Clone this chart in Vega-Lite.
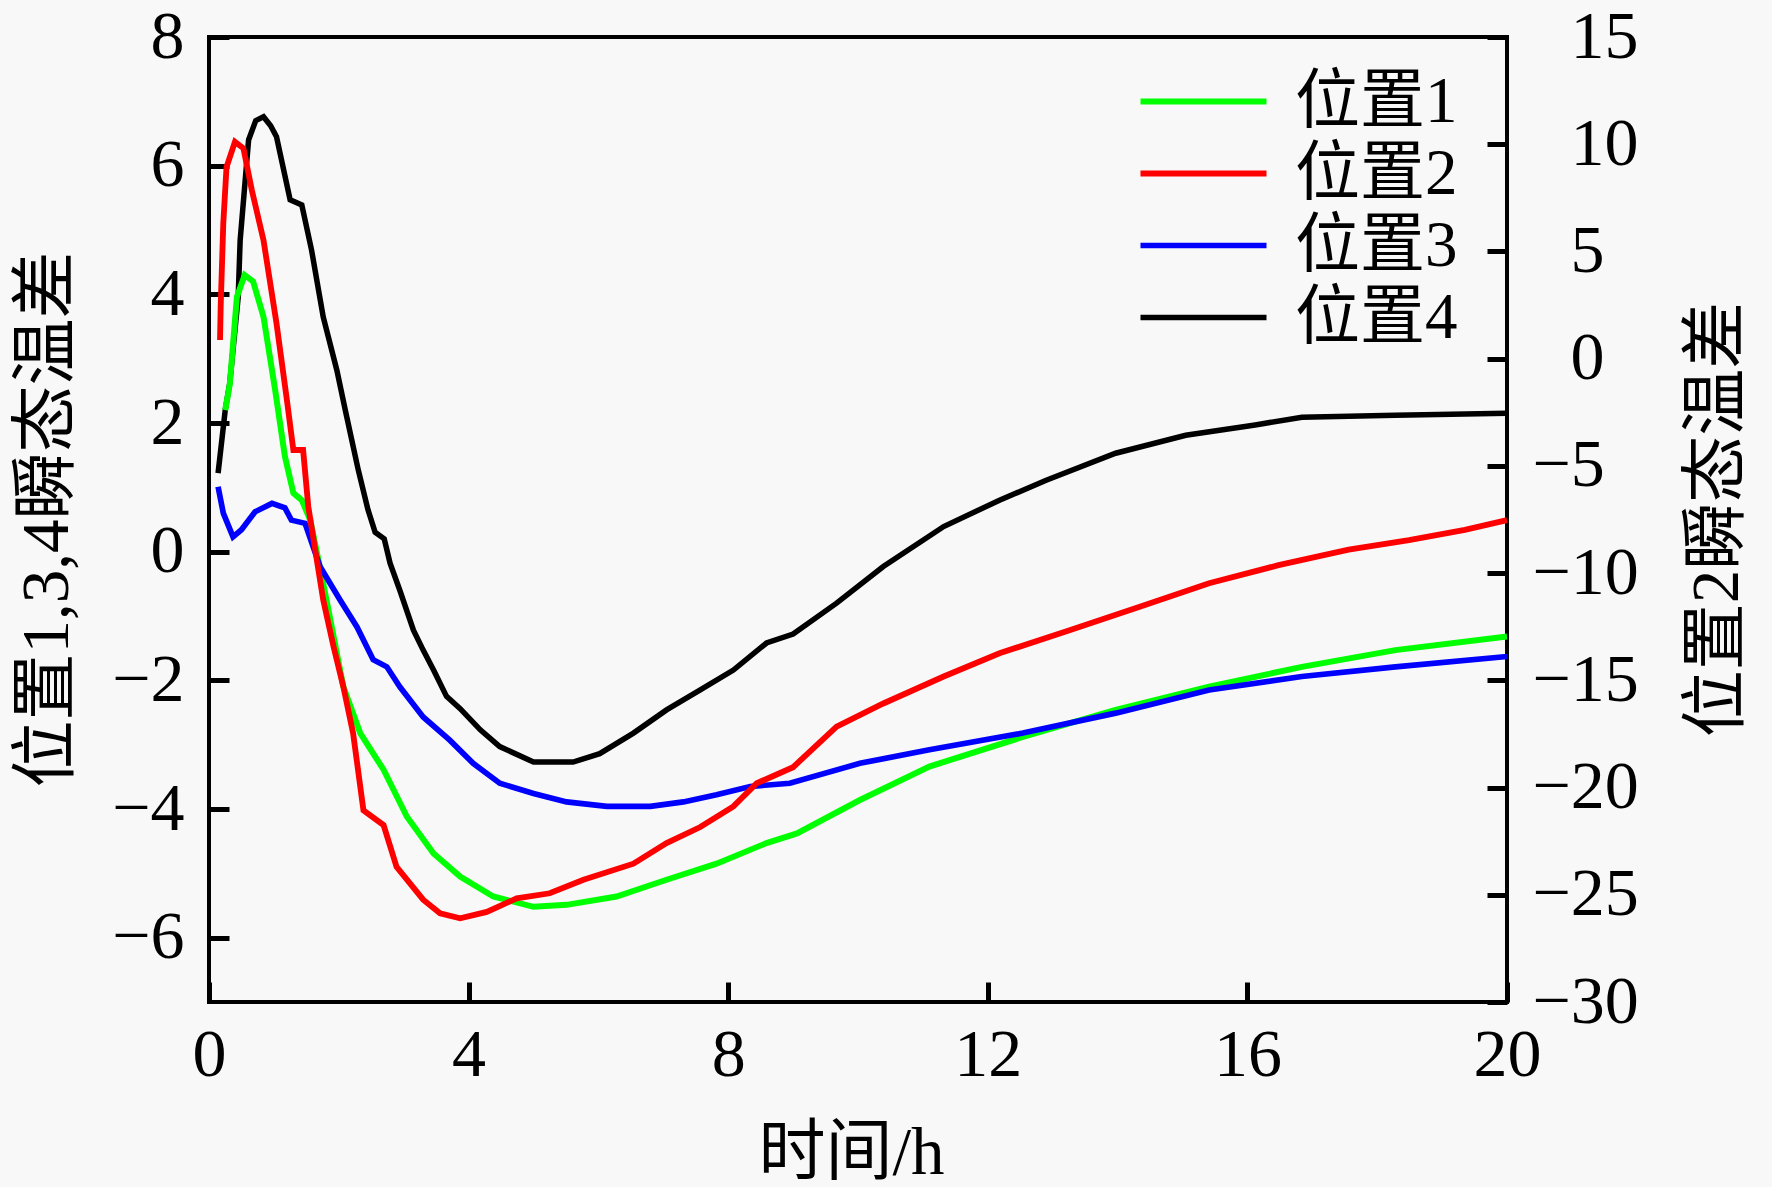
{
  "$schema": "https://vega.github.io/schema/vega-lite/v6.json",
  "width": 1298,
  "height": 965,
  "autosize": "none",
  "padding": {"left": 209, "top": 37, "right": 265, "bottom": 185},
  "background": "#f8f8f8",
  "config": {
    "view": {"stroke": "black", "strokeWidth": 4},
    "axis": {
      "labelFont": "Liberation Serif",
      "labelFontSize": 68,
      "labelColor": "black",
      "labelFlush": false,
      "labelOverlap": false,
      "titleFont": "Liberation Serif, Noto Sans CJK SC",
      "titleFontSize": 67,
      "titleFontWeight": "normal",
      "titleColor": "black",
      "domain": false,
      "grid": false,
      "ticks": true,
      "tickSize": 20,
      "tickWidth": 5,
      "tickColor": "#000000",
      "offset": -20,
      "zindex": 2,
      "titleBaseline": "middle",
      "titleAlign": "center"
    },
    "legend": {
      "labelFont": "Liberation Serif, Noto Sans CJK SC",
      "labelFontSize": 65,
      "labelColor": "black",
      "labelLimit": 0
    }
  },
  "data": {
    "values": [
      {"series": "位置4", "time": 0.14, "value": 1.22},
      {"series": "位置4", "time": 0.25, "value": 2.2},
      {"series": "位置4", "time": 0.32, "value": 2.62},
      {"series": "位置4", "time": 0.45, "value": 3.96},
      {"series": "位置4", "time": 0.48, "value": 4.84},
      {"series": "位置4", "time": 0.61, "value": 6.4},
      {"series": "位置4", "time": 0.72, "value": 6.7},
      {"series": "位置4", "time": 0.84, "value": 6.76},
      {"series": "位置4", "time": 0.95, "value": 6.62},
      {"series": "位置4", "time": 1.04, "value": 6.45},
      {"series": "位置4", "time": 1.25, "value": 5.47},
      {"series": "位置4", "time": 1.43, "value": 5.39},
      {"series": "位置4", "time": 1.58, "value": 4.69},
      {"series": "位置4", "time": 1.76, "value": 3.65},
      {"series": "位置4", "time": 1.97, "value": 2.82},
      {"series": "位置4", "time": 2.1, "value": 2.2},
      {"series": "位置4", "time": 2.3, "value": 1.27},
      {"series": "位置4", "time": 2.45, "value": 0.65},
      {"series": "位置4", "time": 2.56, "value": 0.3},
      {"series": "位置4", "time": 2.7, "value": 0.2},
      {"series": "位置4", "time": 2.79, "value": -0.18},
      {"series": "位置4", "time": 2.94, "value": -0.6},
      {"series": "位置4", "time": 3.15, "value": -1.22},
      {"series": "位置4", "time": 3.3, "value": -1.53},
      {"series": "位置4", "time": 3.46, "value": -1.84},
      {"series": "位置4", "time": 3.66, "value": -2.25},
      {"series": "位置4", "time": 3.87, "value": -2.44},
      {"series": "位置4", "time": 4.18, "value": -2.77},
      {"series": "位置4", "time": 4.48, "value": -3.03},
      {"series": "位置4", "time": 5.0, "value": -3.27},
      {"series": "位置4", "time": 5.61, "value": -3.27},
      {"series": "位置4", "time": 6.02, "value": -3.14},
      {"series": "位置4", "time": 6.54, "value": -2.82},
      {"series": "位置4", "time": 7.05, "value": -2.46},
      {"series": "位置4", "time": 7.57, "value": -2.15},
      {"series": "位置4", "time": 8.08, "value": -1.84},
      {"series": "位置4", "time": 8.59, "value": -1.42},
      {"series": "位置4", "time": 9.0, "value": -1.28},
      {"series": "位置4", "time": 9.67, "value": -0.8},
      {"series": "位置4", "time": 10.39, "value": -0.23},
      {"series": "位置4", "time": 11.32, "value": 0.39},
      {"series": "位置4", "time": 12.18, "value": 0.8},
      {"series": "位置4", "time": 12.9, "value": 1.11},
      {"series": "位置4", "time": 13.97, "value": 1.53},
      {"series": "位置4", "time": 15.05, "value": 1.81},
      {"series": "位置4", "time": 16.12, "value": 1.97},
      {"series": "位置4", "time": 16.84, "value": 2.09},
      {"series": "位置4", "time": 18.28, "value": 2.12},
      {"series": "位置4", "time": 20.0, "value": 2.15},

      {"series": "位置1", "time": 0.25, "value": 2.2},
      {"series": "位置1", "time": 0.32, "value": 2.6},
      {"series": "位置1", "time": 0.43, "value": 3.96},
      {"series": "位置1", "time": 0.55, "value": 4.3},
      {"series": "位置1", "time": 0.68, "value": 4.2},
      {"series": "位置1", "time": 0.84, "value": 3.65},
      {"series": "位置1", "time": 1.02, "value": 2.51},
      {"series": "位置1", "time": 1.17, "value": 1.48},
      {"series": "位置1", "time": 1.3, "value": 0.91},
      {"series": "位置1", "time": 1.43, "value": 0.8},
      {"series": "位置1", "time": 1.56, "value": 0.49},
      {"series": "位置1", "time": 1.68, "value": -0.1},
      {"series": "位置1", "time": 1.81, "value": -0.75},
      {"series": "位置1", "time": 2.07, "value": -2.1},
      {"series": "位置1", "time": 2.33, "value": -2.82},
      {"series": "位置1", "time": 2.69, "value": -3.39},
      {"series": "位置1", "time": 3.05, "value": -4.12},
      {"series": "位置1", "time": 3.46, "value": -4.69},
      {"series": "位置1", "time": 3.87, "value": -5.05},
      {"series": "位置1", "time": 4.38, "value": -5.36},
      {"series": "位置1", "time": 5.0, "value": -5.52},
      {"series": "位置1", "time": 5.51, "value": -5.49},
      {"series": "位置1", "time": 6.28, "value": -5.36},
      {"series": "位置1", "time": 7.05, "value": -5.1},
      {"series": "位置1", "time": 7.82, "value": -4.85},
      {"series": "位置1", "time": 8.59, "value": -4.53},
      {"series": "位置1", "time": 9.06, "value": -4.38},
      {"series": "位置1", "time": 10.03, "value": -3.86},
      {"series": "位置1", "time": 11.1, "value": -3.34},
      {"series": "位置1", "time": 12.54, "value": -2.88},
      {"series": "位置1", "time": 13.97, "value": -2.46},
      {"series": "位置1", "time": 15.41, "value": -2.1},
      {"series": "位置1", "time": 16.84, "value": -1.79},
      {"series": "位置1", "time": 18.28, "value": -1.53},
      {"series": "位置1", "time": 20.0, "value": -1.32},

      {"series": "位置3", "time": 0.14, "value": 1.01},
      {"series": "位置3", "time": 0.22, "value": 0.6},
      {"series": "位置3", "time": 0.37, "value": 0.23},
      {"series": "位置3", "time": 0.5, "value": 0.34},
      {"series": "位置3", "time": 0.71, "value": 0.62},
      {"series": "位置3", "time": 0.97, "value": 0.75},
      {"series": "位置3", "time": 1.17, "value": 0.68},
      {"series": "位置3", "time": 1.27, "value": 0.49},
      {"series": "位置3", "time": 1.48, "value": 0.44},
      {"series": "位置3", "time": 1.71, "value": -0.23},
      {"series": "位置3", "time": 2.02, "value": -0.75},
      {"series": "位置3", "time": 2.28, "value": -1.17},
      {"series": "位置3", "time": 2.53, "value": -1.68},
      {"series": "位置3", "time": 2.74, "value": -1.79},
      {"series": "位置3", "time": 2.94, "value": -2.1},
      {"series": "位置3", "time": 3.3, "value": -2.57},
      {"series": "位置3", "time": 3.71, "value": -2.93},
      {"series": "位置3", "time": 4.07, "value": -3.29},
      {"series": "位置3", "time": 4.48, "value": -3.6},
      {"series": "位置3", "time": 5.0, "value": -3.76},
      {"series": "位置3", "time": 5.51, "value": -3.89},
      {"series": "位置3", "time": 6.13, "value": -3.96},
      {"series": "位置3", "time": 6.8, "value": -3.96},
      {"series": "位置3", "time": 7.31, "value": -3.89},
      {"series": "位置3", "time": 7.82, "value": -3.78},
      {"series": "位置3", "time": 8.34, "value": -3.65},
      {"series": "位置3", "time": 8.95, "value": -3.6},
      {"series": "位置3", "time": 10.03, "value": -3.29},
      {"series": "位置3", "time": 11.1, "value": -3.08},
      {"series": "位置3", "time": 12.54, "value": -2.82},
      {"series": "位置3", "time": 13.97, "value": -2.51},
      {"series": "位置3", "time": 15.41, "value": -2.15},
      {"series": "位置3", "time": 16.84, "value": -1.94},
      {"series": "位置3", "time": 18.28, "value": -1.79},
      {"series": "位置3", "time": 20.0, "value": -1.63},

      {"series": "位置2", "time": 0.17, "value": 0.87},
      {"series": "位置2", "time": 0.18, "value": 2.43},
      {"series": "位置2", "time": 0.22, "value": 6.3},
      {"series": "位置2", "time": 0.27, "value": 8.94},
      {"series": "位置2", "time": 0.4, "value": 10.11},
      {"series": "位置2", "time": 0.53, "value": 9.81},
      {"series": "位置2", "time": 0.66, "value": 7.86},
      {"series": "位置2", "time": 0.84, "value": 5.52},
      {"series": "位置2", "time": 1.04, "value": 1.65},
      {"series": "位置2", "time": 1.2, "value": -1.92},
      {"series": "位置2", "time": 1.3, "value": -4.26},
      {"series": "位置2", "time": 1.45, "value": -4.26},
      {"series": "位置2", "time": 1.53, "value": -6.9},
      {"series": "位置2", "time": 1.76, "value": -11.25},
      {"series": "位置2", "time": 1.92, "value": -13.44},
      {"series": "位置2", "time": 2.07, "value": -15.3},
      {"series": "位置2", "time": 2.22, "value": -17.46},
      {"series": "位置2", "time": 2.38, "value": -21.06},
      {"series": "位置2", "time": 2.69, "value": -21.75},
      {"series": "位置2", "time": 2.89, "value": -23.7},
      {"series": "位置2", "time": 3.3, "value": -25.23},
      {"series": "位置2", "time": 3.56, "value": -25.86},
      {"series": "位置2", "time": 3.87, "value": -26.1},
      {"series": "位置2", "time": 4.28, "value": -25.8},
      {"series": "位置2", "time": 4.74, "value": -25.17},
      {"series": "位置2", "time": 5.25, "value": -24.93},
      {"series": "位置2", "time": 5.77, "value": -24.3},
      {"series": "位置2", "time": 6.54, "value": -23.55},
      {"series": "位置2", "time": 7.05, "value": -22.59},
      {"series": "位置2", "time": 7.57, "value": -21.84},
      {"series": "位置2", "time": 8.08, "value": -20.88},
      {"series": "位置2", "time": 8.44, "value": -19.8},
      {"series": "位置2", "time": 9.0, "value": -19.05},
      {"series": "位置2", "time": 9.67, "value": -17.16},
      {"series": "位置2", "time": 10.39, "value": -16.08},
      {"series": "位置2", "time": 11.32, "value": -14.82},
      {"series": "位置2", "time": 12.18, "value": -13.74},
      {"series": "位置2", "time": 13.26, "value": -12.66},
      {"series": "位置2", "time": 14.33, "value": -11.58},
      {"series": "位置2", "time": 15.41, "value": -10.47},
      {"series": "位置2", "time": 16.48, "value": -9.63},
      {"series": "位置2", "time": 17.56, "value": -8.91},
      {"series": "位置2", "time": 18.49, "value": -8.46},
      {"series": "位置2", "time": 19.35, "value": -7.98},
      {"series": "位置2", "time": 20.0, "value": -7.53}
    ]
  },
  "encoding": {
    "x": {
      "field": "time",
      "type": "quantitative",
      "scale": {"domain": [0, 20], "nice": false, "zero": false},
      "axis": {
        "values": [0, 4, 8, 12, 16, 20],
        "title": "时间/h",
        "labelPadding": 19,
        "titleX": 642,
        "titleY": 171
      }
    },
    "color": {
      "field": "series",
      "type": "nominal",
      "scale": {
        "domain": ["位置1", "位置2", "位置3", "位置4"],
        "range": ["#00ff00", "#ff0000", "#0000ff", "#000000"]
      },
      "legend": {
        "title": null,
        "orient": "none",
        "legendX": 960,
        "legendY": 30,
        "padding": 0,
        "symbolType": "M-2,0L2,0",
        "symbolSize": 3969,
        "symbolStrokeWidth": 4,
        "labelOffset": 57,
        "rowPadding": 4
      }
    },
    "strokeWidth": {
      "field": "series",
      "type": "nominal",
      "scale": {
        "domain": ["位置1", "位置2", "位置3", "位置4"],
        "range": [6, 5.5, 6, 4.5]
      },
      "legend": null
    }
  },
  "layer": [
    {
      "transform": [{"filter": "datum.series !== '位置2'"}],
      "mark": {"type": "line"},
      "encoding": {
        "y": {
          "field": "value",
          "type": "quantitative",
          "scale": {"domain": [-7, 8], "nice": false, "zero": false},
          "axis": {
            "orient": "left",
            "values": [-6, -4, -2, 0, 2, 4, 6, 8],
            "title": "位置1,3,4瞬态温差",
            "labelPadding": 25,
            "titleAngle": -90,
            "titleX": -182,
            "titleY": 482
          }
        }
      }
    },
    {
      "transform": [{"filter": "datum.series === '位置2'"}],
      "mark": {"type": "line"},
      "encoding": {
        "y": {
          "field": "value",
          "type": "quantitative",
          "scale": {"domain": [-30, 15], "nice": false, "zero": false},
          "axis": {
            "orient": "right",
            "values": [-30, -25, -20, -15, -10, -5, 0, 5, 10, 15],
            "labelPadding": {"condition": {"test": "datum.value >= 0", "value": 63}, "value": 25},
            "title": "位置2瞬态温差",
            "titleAngle": -90,
            "titleX": 230,
            "titleY": 482
          }
        }
      }
    }
  ],
  "resolve": {"scale": {"y": "independent"}}
}
